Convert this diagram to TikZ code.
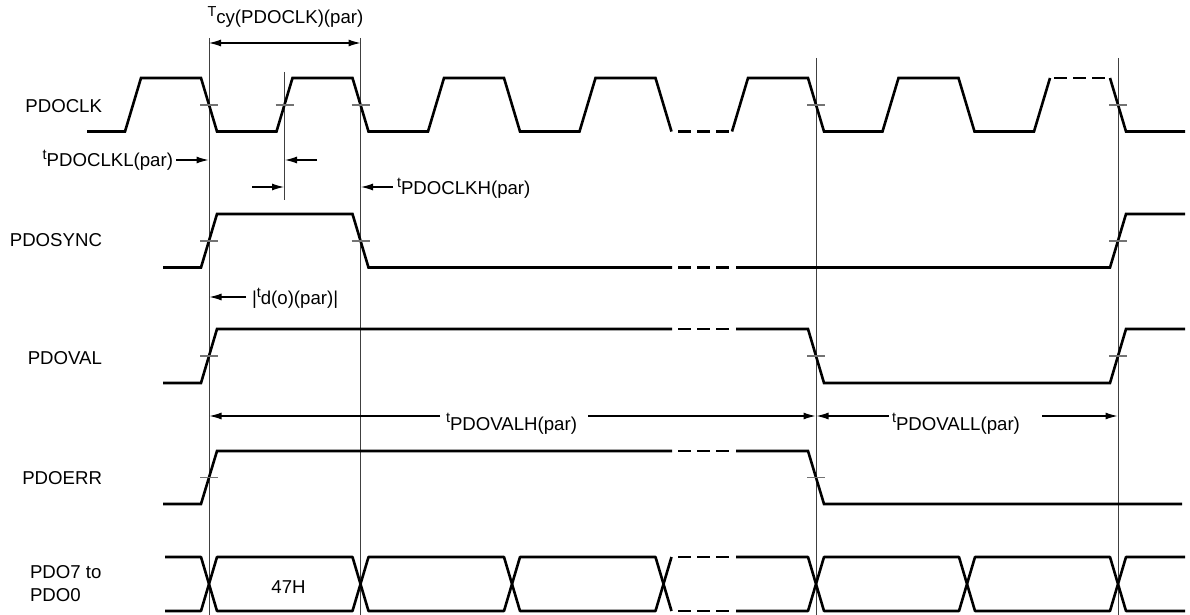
\documentclass[tikz,border=0pt]{standalone}
\usepackage{fontspec}
\setmainfont{Liberation Sans}
\usetikzlibrary{arrows.meta}
\newcommand\lab{\fontsize{18.7pt}{22pt}\selectfont}
\newcommand\tm[2]{\raisebox{7.5pt}{\fontsize{14.5pt}{16pt}\selectfont #1}#2}
\tikzset{
  wave/.style={line width=2.6bp, black, line join=miter},
  dsh/.style={line width=2.6bp, black, dash pattern=on 13bp off 6bp},
  bus/.style={line width=2.6bp, black, line join=round},
  vref/.style={line width=0.9bp, black!75},
  tickmark/.style={line width=1.2bp, black!55},
  dimarrow/.style={line width=1.1bp, -{Latex[length=12bp,width=7bp]}},
  dimboth/.style={line width=1.1bp, {Latex[length=12bp,width=7bp]}-{Latex[length=12bp,width=7bp]}},
  lbl/.style={inner sep=0pt, outer sep=0pt, font=\lab},
}
\begin{document}
\begin{tikzpicture}[x=1bp,y=-1bp]
\useasboundingbox (0,0) rectangle (1190,615);

% ---------- signal names ----------
\node[lbl, anchor=base east] (nclk)  at (102,113) {PDOCLK};
\node[lbl, anchor=base east] (nsync) at (102,247) {PDOSYNC};
\node[lbl, anchor=base east] (nval)  at (102,364) {PDOVAL};
\node[lbl, anchor=base east] (nerr)  at (102,484) {PDOERR};
\node[lbl, anchor=base west] (npdoa) at (30,578) {PDO7 to};
\node[lbl, anchor=base west] (npdob) at (30,601) {PDO0};

% ---------- reference lines ----------
\coordinate (v1t) at (209,38);    \coordinate (v1b) at (209,615);
\coordinate (v2t) at (360.5,38);  \coordinate (v2b) at (360.5,615);
\coordinate (v3t) at (284.5,72);  \coordinate (v3b) at (284.5,200);
\coordinate (v4t) at (816,58);    \coordinate (v4b) at (816,615);
\coordinate (v5t) at (1118,58);   \coordinate (v5b) at (1118,615);
\draw[vref] (v1t) -- (v1b);
\draw[vref] (v2t) -- (v2b);
\draw[vref] (v3t) -- (v3b);
\draw[vref] (v4t) -- (v4b);
\draw[vref] (v5t) -- (v5b);

% ---------- PDOCLK ----------
\draw[wave] (87,131.5) -- (125,131.5) -- (141,78) -- (201,78) -- (217,131.5)
  -- (276.5,131.5) -- (292.5,78) -- (352.5,78) -- (368.5,131.5)
  -- (428,131.5) -- (444,78) -- (504,78) -- (520,131.5)
  -- (579.5,131.5) -- (595.5,78) -- (655.5,78) -- (671.5,131.5);
\draw[dsh] (678,131.5) -- (730,131.5);
\draw[wave] (732,131.5) -- (748,78) -- (808,78) -- (824,131.5)
  -- (882.5,131.5) -- (898.5,78) -- (958.5,78) -- (974.5,131.5)
  -- (1034,131.5) -- (1050,78);
\draw[dsh] (1054,78) -- (1106,78);
\draw[wave] (1110,78) -- (1126,131.5) -- (1185,131.5);
\foreach \x in {209,284.5,360.5,816,1118}
  \draw[tickmark] (\x-9,105) -- (\x+9,105);

% ---------- PDOSYNC ----------
\draw[wave] (163,267.5) -- (201,267.5) -- (217,214) -- (352.5,214) -- (368.5,267.5) -- (672,267.5);
\draw[dsh] (678,267.5) -- (730,267.5);
\draw[wave] (736,267.5) -- (1110,267.5) -- (1126,214) -- (1185,214);
\foreach \x in {209,360.5,1118}
  \draw[tickmark] (\x-9,241) -- (\x+9,241);

% ---------- PDOVAL ----------
\draw[wave] (163,383) -- (201,383) -- (217,329) -- (672,329);
\draw[dsh] (678,329) -- (730,329);
\draw[wave] (736,329) -- (808,329) -- (824,383) -- (1110,383) -- (1126,329) -- (1185,329);
\foreach \x in {209,816,1118}
  \draw[tickmark] (\x-9,356) -- (\x+9,356);

% ---------- PDOERR ----------
\draw[wave] (163,504) -- (201,504) -- (217,451) -- (672,451);
\draw[dsh] (678,451) -- (730,451);
\draw[wave] (736,451) -- (808,451) -- (824,504) -- (1182,504);
\foreach \x in {209,816}
  \draw[tickmark] (\x-9,477.5) -- (\x+9,477.5);

% ---------- PDO7 to PDO0 bus ----------
\draw[bus] (165,557) -- (201,557) -- (209,584) -- (201,611) -- (165,611);
\foreach \a/\b in {209/360.5, 360.5/512, 512/663.5, 816/967, 967/1118}
  \draw[bus] (\a,584) -- (\a+8,557) -- (\b-8,557) -- (\b,584) -- (\b-8,611) -- (\a+8,611) -- cycle;
\draw[bus] (671.5,557) -- (663.5,584) -- (671.5,611);
\draw[dsh] (678,557) -- (730,557);
\draw[dsh] (678,611) -- (730,611);
\draw[bus] (736,557) -- (808,557) -- (816,584) -- (808,611) -- (736,611);
\draw[bus] (1185,557) -- (1126,557) -- (1118,584) -- (1126,611) -- (1185,611);
\node[lbl, anchor=base] (d47) at (288.5,593) {47H};

% ---------- timing annotations ----------
\node[lbl, anchor=base west] (ttcy) at (207.5,24) {\tm{T}{cy(PDOCLK)(par)}};
\coordinate (tcya) at (209,43); \coordinate (tcyb) at (360.5,43);
\draw[dimboth] (tcya) -- (tcyb);

\node[lbl, anchor=base east] (tclkl) at (173,167) {\tm{t}{PDOCLKL(par)}};
\coordinate (clkla) at (176,160); \coordinate (clklb) at (208.5,160);
\draw[dimarrow] (clkla) -- (clklb);

\coordinate (s1a) at (317,160); \coordinate (s1b) at (285,160);
\draw[dimarrow] (s1a) -- (s1b);
\coordinate (s2a) at (252,187); \coordinate (s2b) at (284,187);
\draw[dimarrow] (s2a) -- (s2b);

\node[lbl, anchor=base west] (tclkh) at (397,195) {\tm{t}{PDOCLKH(par)}};
\coordinate (clkha) at (393,187); \coordinate (clkhb) at (361,187);
\draw[dimarrow] (clkha) -- (clkhb);

\node[lbl, anchor=base west] (tdo) at (252,305) {|\tm{t}{d(o)(par)}|};
\coordinate (tdoa) at (246,297); \coordinate (tdob) at (209.5,297);
\draw[dimarrow] (tdoa) -- (tdob);

\node[lbl, anchor=base west] (tvalh) at (446,430) {\tm{t}{PDOVALH(par)}};
\coordinate (valha) at (440,416); \coordinate (valhb) at (209.5,416);
\coordinate (valhc) at (588,416); \coordinate (valhd) at (815.5,416);
\draw[dimarrow] (valha) -- (valhb);
\draw[dimarrow] (valhc) -- (valhd);

\node[lbl, anchor=base west] (tvall) at (892,430) {\tm{t}{PDOVALL(par)}};
\coordinate (valla) at (889,416); \coordinate (vallb) at (816.5,416);
\coordinate (vallc) at (1042,416); \coordinate (valld) at (1117.5,416);
\draw[dimarrow] (valla) -- (vallb);
\draw[dimarrow] (vallc) -- (valld);
\end{tikzpicture}
\end{document}
